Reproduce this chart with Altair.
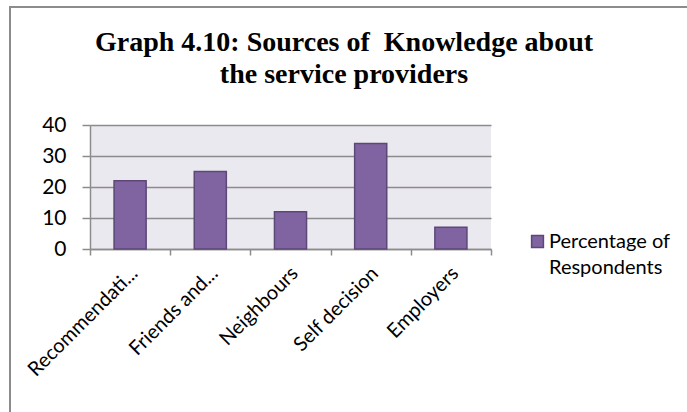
import altair as alt
import pandas as pd

categories = ["Recommendati...", "Friends and...", "Neighbours", "Self decision", "Employers"]
values = [22, 25, 12, 34, 7]
series_name = "Percentage of Respondents"
legend_lines = ["Percentage of", "Respondents"]
y_ticks = [0, 10, 20, 30, 40]
title_lines = ["Graph 4.10: Sources of\u00a0 Knowledge about", "the service providers"]

df = pd.DataFrame({"Source": categories, "Percentage": values, "Series": [series_name] * len(categories)})
one = pd.DataFrame({"k": [0]})

W, H = 401, 124
PAD_L, PAD_T = 90, 125

frame = alt.Chart(one).mark_rect(
    fillOpacity=0, stroke="#8c8c8c", strokeWidth=2, clip=False
).encode(
    x=alt.value(10 - PAD_L), x2=alt.value(800),
    y=alt.value(7 - PAD_T), y2=alt.value(500),
)

title_font = dict(font="Liberation Serif", fontSize=28, fontWeight="bold", color="#000000",
                  align="center", baseline="alphabetic")
t1 = alt.Chart(one).mark_text(**title_font).encode(
    x=alt.value(344 - PAD_L), y=alt.value(51 - PAD_T), text=alt.value(title_lines[0]))
t2 = alt.Chart(one).mark_text(**title_font).encode(
    x=alt.value(344 - PAD_L), y=alt.value(83 - PAD_T), text=alt.value(title_lines[1]))

bars = alt.Chart(df).mark_bar(
    width=alt.RelativeBandSize(0.4), stroke="#5C4776", strokeWidth=1.5
).encode(
    x=alt.X("Source:N", sort=categories,
            scale=alt.Scale(paddingInner=0, paddingOuter=0),
            axis=alt.Axis(title=None, labelAngle=-45, labelAlign="right", labelBaseline="middle",
                          tickBand="extent", tickSize=6, tickColor="#8c8c8c", tickWidth=1.5,
                          domainColor="#8c8c8c", domainWidth=1.5, labelPadding=15, labelOffset=4,
                          labelFont="Lato", labelFontSize=20, labelColor="#000000",
                          grid=False)),
    y=alt.Y("Percentage:Q", scale=alt.Scale(domain=[0, 40]),
            axis=alt.Axis(title=None, values=y_ticks, tickSize=8, tickColor="#8c8c8c", tickWidth=1.5,
                          domainColor="#8c8c8c", domainWidth=1.5, labelPadding=16,
                          labelFont="Lato", labelFontSize=21, labelColor="#000000",
                          grid=True, gridColor="#8c8c8c", gridWidth=1.5)),
    color=alt.Color("Series:N", scale=alt.Scale(range=["#8064A2"]), legend=None),
)

leg_sym = alt.Chart(one).mark_square(
    size=140, color="#8064A2", stroke="#5C4776", strokeWidth=1.5, opacity=1
).encode(x=alt.value(537.5 - PAD_L), y=alt.value(241.5 - PAD_T))
leg_font = dict(font="Lato", fontSize=20, color="#000000", align="left", baseline="alphabetic")
leg1 = alt.Chart(one).mark_text(**leg_font).encode(
    x=alt.value(549 - PAD_L), y=alt.value(248 - PAD_T), text=alt.value(legend_lines[0]))
leg2 = alt.Chart(one).mark_text(**leg_font).encode(
    x=alt.value(549 - PAD_L), y=alt.value(274 - PAD_T), text=alt.value(legend_lines[1]))

chart = alt.layer(frame, bars, t1, t2, leg_sym, leg1, leg2).properties(
    width=W, height=H,
    padding={"left": PAD_L, "top": PAD_T, "right": 687 - PAD_L - W, "bottom": 412 - PAD_T - H},
    autosize=alt.AutoSizeParams(type="none"),
    background="#ffffff",
).configure_view(fill="#EBE9F0", stroke=None)

chart.save("out.html", embed_options={"renderer": "svg", "actions": False})
